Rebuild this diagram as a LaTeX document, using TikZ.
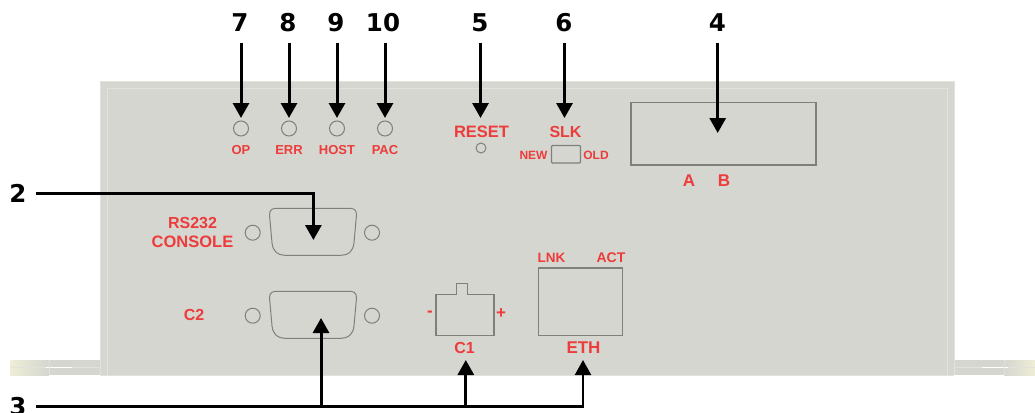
\documentclass[tikz,border=0pt]{standalone}
\usepackage{fontspec}
\setmainfont{Liberation Sans}
\newfontfamily\numfont{DejaVu Sans}[BoldFont={DejaVu Sans Bold}]
\newfontfamily\redfont{Liberation Sans Bold}
\usetikzlibrary{arrows.meta,calc}
\definecolor{panel}{HTML}{D5D6D0}
\definecolor{edgeline}{HTML}{E1E2DC}
\definecolor{wingpale}{HTML}{EEEED6}
\definecolor{redtxt}{HTML}{EE3B3B}
\definecolor{part}{HTML}{7F807C}
\tikzset{
  x=1pt,y=-1pt,
  num/.style={inner sep=0pt,outer sep=0pt,minimum height=40pt,text height=18pt,text depth=0pt,
    font=\numfont\bfseries\fontsize{24.5}{24.5}\selectfont},
  sidenum/.style={num,minimum width=36pt},
  lbl/.style={inner sep=0pt,text=redtxt,font=\redfont\fontsize{#1}{#1}\selectfont},
  lbl/.default=13,
  led/.style={circle,draw=part,line width=1pt,inner sep=0pt,outer sep=0pt,minimum size=15pt},
  box/.style={draw=part,line width=1.2pt,inner sep=0pt,outer sep=0pt},
  conn/.style={line width=3pt,draw=black},
  arr/.style={conn,-{Triangle[width=16pt,length=15pt]}},
  arrthin/.style={line width=2.2pt,draw=black,-{Triangle[width=16pt,length=15pt]}},
}
\newcommand{\dbshape}[2]{%
  \draw[draw=part,line width=1pt]
    (#1-43.5,#2-18) .. controls (#1-43.5,#2-24) and (#1-40,#2-24.5) .. (#1-35,#2-24.5)
    -- (#1+35,#2-24.5) .. controls (#1+40,#2-24.5) and (#1+43.5,#2-24) .. (#1+43.5,#2-18)
    -- (#1+41,#2+10) .. controls (#1+40,#2+19) and (#1+35,#2+22.5) .. (#1+28,#2+22.5)
    -- (#1-28,#2+22.5) .. controls (#1-35,#2+22.5) and (#1-40,#2+19) .. (#1-41,#2+10)
    -- cycle;}
\begin{document}
\begin{tikzpicture}
\clip (0,0) rectangle (1035,412);
\fill[white] (0,0) rectangle (1035,412);
% mounting wings
\fill[panel] (10.5,360) rectangle (100,375);
\fill[panel] (954,360) rectangle (1035,375);
\shade[left color=wingpale,right color=panel] (10.5,360) rectangle (49,375);
\shade[right color=wingpale,left color=panel] (1004,360) rectangle (1035,375);
\draw[edgeline,line width=.8pt] (10.5,367.5) -- (106,367.5);
\draw[edgeline,line width=.8pt] (948,367.5) -- (1035,367.5);
\draw[white,line width=.8pt] (46,367) -- (72,367);
\draw[white,line width=.8pt] (982,367) -- (1008,367);
\draw[edgeline,line width=.8pt] (49.5,360) -- (49.5,375);
\draw[edgeline,line width=.8pt] (1004.5,360) -- (1004.5,375);
% panel
\fill[panel] (100,81) rectangle (954,375);
\draw[edgeline,line width=.8pt] (100,375) -- (100,81.5) -- (954,81.5) -- (954,375);
\draw[edgeline,line width=1pt] (107,375) -- (107,88) -- (947,88) -- (947,375);
\draw[edgeline,line width=.8pt] (100,375) -- (954,375);
% LEDs
\node[led] (ledop) at (241,128.5) {};
\node[led] (lederr) at (289,128.5) {};
\node[led] (ledhost) at (337,128.5) {};
\node[led] (ledpac) at (385,128.5) {};
\node[lbl] (topop) at (241,150) {OP};
\node[lbl] (toperr) at (289,150) {ERR};
\node[lbl] (tophost) at (337,150) {HOST};
\node[lbl] (toppac) at (385,150) {PAC};
% reset & slk
\node[lbl=16.5] (reset) at (481.5,131.5) {RESET};
\node[led,minimum size=10pt] (resetled) at (481,148) {};
\node[lbl=16] (slk) at (565.5,131.5) {SLK};
\node[box,rounded corners=1pt,minimum width=29pt,minimum height=17.5pt] (slksw) at (566,154.3) {};
\node[lbl=12] (new) at (533.5,155) {NEW};
\node[lbl=12] (old) at (596,155) {OLD};
% terminal block
\node[box,minimum width=185pt,minimum height=62.5pt] (term) at (723.5,133.8) {};
\node[lbl=17] (a) at (689,180.5) {A};
\node[lbl=17] (b) at (724,180.5) {B};
% DB9
\node[led] (db1l) at (252.7,232.7) {};
\node[led] (db1r) at (372,232.7) {};
\node[led] (db2l) at (252.7,315.7) {};
\node[led] (db2r) at (372,315.7) {};
\dbshape{313}{232.8}
\dbshape{313}{315.8}
\node[lbl=16] (rs) at (192.5,222.7) {RS232};
\node[lbl=16.5] (console) at (192.5,242) {CONSOLE};
\node[lbl=16] (c2) at (194,315) {C2};
% C1 connector
\draw[draw=part,line width=1.2pt] (436,294.3) -- (456.5,294.3) -- (456.5,283.5) -- (467.5,283.5) -- (467.5,294.3) -- (494,294.3) -- (494,335.7) -- (436,335.7) -- cycle;
\node[lbl=17] (minus) at (430,313.5) {-};
\node[lbl=17] (plus) at (501,314) {+};
\node[lbl=16] (c1) at (464.5,348) {C1};
% ETH
\node[box,minimum width=84.4pt,minimum height=67.7pt] (eth) at (580.5,301.9) {};
\node[lbl=13.5] (lnk) at (551.5,258) {LNK};
\node[lbl=14] (act) at (611,258) {ACT};
\node[lbl=17] (ethl) at (583.5,348) {ETH};
% numbers
\node[num] (n7) at (240,23) {7};
\node[num] (n8) at (288,23) {8};
\node[num] (n9) at (336,23) {9};
\node[num] (n10) at (383,23) {10};
\node[num] (n5) at (480,23) {5};
\node[num] (n6) at (564,23) {6};
\node[num] (n4) at (717.5,23) {4};
\node[sidenum] (n2) at (18,193) {2};
\node[sidenum] (n3) at (18,406.5) {3};
% targets
\coordinate (t5) at (480.5,118);
\coordinate (t6) at (564.5,118);
\coordinate (t4) at (717.7,133);
\coordinate (t2) at (313.4,240);
\coordinate (t3a) at (321,318);
\coordinate (t3b) at (465.8,360);
\coordinate (t3c) at (583,360);
% connectors
\draw[arr,shorten >=3pt] (ledop |- n7.south) -- (ledop.north);
\draw[arr,shorten >=3pt] (lederr |- n8.south) -- (lederr.north);
\draw[arr,shorten >=3pt] (ledhost |- n9.south) -- (ledhost.north);
\draw[arr,shorten >=3pt] (ledpac |- n10.south) -- (ledpac.north);
\draw[arr] (t5 |- n5.south) -- (t5);
\draw[arr] (t6 |- n6.south) -- (t6);
\draw[arr] (t4 |- n4.south) -- (t4);
\draw[arr] (n2.east) -| (t2);
\draw[conn] (n3.east) -- (t3b |- n3.east);
\draw[arr] (t3a |- n3.east) -- (t3a);
\draw[arr] (t3b |- n3.east) -- (t3b);
\draw[arrthin] (t3b |- n3.east) -| (t3c);
\end{tikzpicture}
\end{document}
